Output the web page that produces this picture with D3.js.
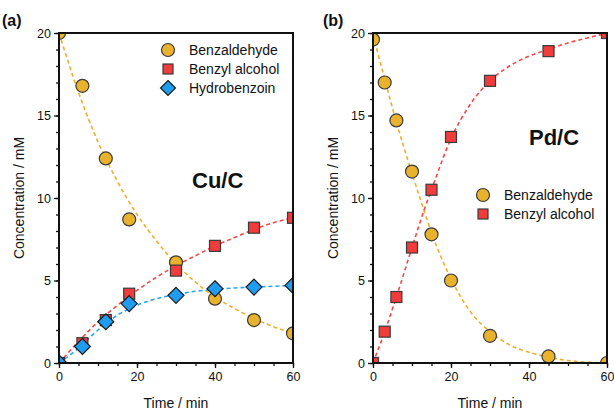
<!DOCTYPE html>
<html><head><meta charset="utf-8">
<script src="https://cdn.jsdelivr.net/npm/d3@7"></script>
<style>body{margin:0;background:#fff;} svg{display:block;font-family:"Liberation Sans",Arial,sans-serif;}</style>
</head><body>
<svg id="c" width="614" height="411"></svg>
<script>
// ---- Data ----
const timeA = [0, 6, 12, 18, 30, 40, 50, 60];
const aBenzaldehyde = [20, 16.8, 12.4, 8.7, 6.1, 3.9, 2.6, 1.8];
const aBenzylAlcohol = [0, 1.2, 2.6, 4.2, 5.6, 7.1, 8.2, 8.8];
const aHydrobenzoin = [0, 1.0, 2.5, 3.6, 4.1, 4.5, 4.6, 4.7];

// fitted (dashed) curves
const fitTimeA = [0, 5, 10, 15, 20, 25, 30, 35, 40, 45, 50, 55, 60];
const aFitBenzaldehyde = [20, 16.4, 13.4, 11.0, 9.0, 7.4, 6.0, 4.9, 4.0, 3.3, 2.7, 2.2, 1.8];
const aFitBenzylAlcohol = [0, 1.3, 2.5, 3.5, 4.4, 5.2, 5.9, 6.5, 7.1, 7.6, 8.1, 8.5, 8.8];
const aFitHydrobenzoin = [0, 0.9, 2.0, 2.9, 3.5, 3.9, 4.15, 4.35, 4.45, 4.55, 4.6, 4.65, 4.7];

const timeB = [0, 3, 6, 10, 15, 20, 30, 45, 60];
const bBenzaldehyde = [19.6, 17.0, 14.7, 11.6, 7.8, 5.0, 1.65, 0.4, 0];
const bBenzylAlcohol = [0, 1.9, 4.0, 7.0, 10.5, 13.7, 17.1, 18.9, 20.0];

const fitTimeB = [0, 3, 6, 10, 13, 15, 20, 25, 30, 35, 40, 45, 50, 55, 60];
const bFitBenzaldehyde = [19.9, 17.2, 14.6, 11.5, 9.3, 7.9, 5.1, 3.1, 1.9, 1.1, 0.65, 0.35, 0.15, 0.05, 0];
const bFitBenzylAlcohol = [0, 1.9, 4.0, 7.0, 9.2, 10.5, 13.6, 15.7, 17.1, 18.0, 18.6, 19.0, 19.4, 19.7, 20.0];

const xTicks = [0, 20, 40, 60];
const yTicks = [0, 5, 10, 15, 20];

const COL = {ald: "#E8B22C", alc: "#F23B3B", hyd: "#1E9CEF"};
const LINECOL = {ald: "#EDAF2E", alc: "#F24A4A", hyd: "#2AA6F0"};

const svg = d3.select("#c");

function panel(opts) {
  const {x0, x1, y0, y1, id} = opts;
  const x = d3.scaleLinear().domain([0, 60]).range([x0, x1]);
  const y = d3.scaleLinear().domain([0, 20]).range([y1, y0]);
  const g = svg.append("g");

  g.append("clipPath").attr("id", "clip" + id).append("rect")
    .attr("x", x0).attr("y", y0).attr("width", x1 - x0).attr("height", y1 - y0);

  // minor ticks
  const xMinor = d3.axisBottom(x).tickValues(d3.range(0, 61, 5)).tickSize(3).tickFormat("");
  const yMinor = d3.axisLeft(y).tickValues(d3.range(0, 21, 1)).tickSize(3).tickFormat("");
  const xMajor = d3.axisBottom(x).tickValues(xTicks).tickSize(5).tickPadding(4).tickFormat(d3.format("d"));
  const yMajor = d3.axisLeft(y).tickValues(yTicks).tickSize(5).tickPadding(3).tickFormat(d3.format("d"));

  [[xMinor, "b"], [xMajor, "b"]].forEach(([ax]) => {
    g.append("g").attr("transform", `translate(0,${y1})`).call(ax)
      .call(s => s.select(".domain").remove())
      .call(s => s.selectAll("line").attr("stroke", "#111").attr("stroke-width", 1.3))
      .call(s => s.selectAll("text").attr("font-size", 12.5).attr("fill", "#111").attr("font-family", "Liberation Sans, Arial"));
  });
  [yMinor, yMajor].forEach(ax => {
    g.append("g").attr("transform", `translate(${x0},0)`).call(ax)
      .call(s => s.select(".domain").remove())
      .call(s => s.selectAll("line").attr("stroke", "#111").attr("stroke-width", 1.3))
      .call(s => s.selectAll("text").attr("font-size", 12.5).attr("fill", "#111").attr("font-family", "Liberation Sans, Arial"));
  });

  const plot = g.append("g").attr("clip-path", `url(#clip${id})`);
  const line = d3.line().x(d => x(d[0])).y(d => y(d[1])).curve(d3.curveMonotoneX);

  opts.fits.forEach(f => {
    plot.append("path").datum(d3.zip(f.t, f.v)).attr("d", line)
      .attr("fill", "none").attr("stroke", f.c).attr("stroke-width", 1.6)
      .attr("stroke-dasharray", "4,3");
  });

  opts.series.forEach(s => {
    const pts = d3.zip(s.t, s.v);
    drawMarkers(plot, pts.map(p => [x(p[0]), y(p[1])]), s.shape, s.c);
  });

  // frame
  g.append("rect").attr("x", x0).attr("y", y0).attr("width", x1 - x0).attr("height", y1 - y0)
    .attr("fill", "none").attr("stroke", "#111").attr("stroke-width", 2);

  // axis titles
  g.append("text").attr("x", (x0 + x1) / 2).attr("y", 408).attr("text-anchor", "middle")
    .attr("font-size", 14).attr("fill", "#111").text("Time / min");
  g.append("text").attr("transform", `translate(${opts.ytx},${(y0 + y1) / 2}) rotate(-90)`)
    .attr("text-anchor", "middle").attr("font-size", 14).attr("fill", "#111").text("Concentration / mM");

  // panel label
  g.append("text").attr("x", opts.lx).attr("y", 26).attr("font-size", 16).attr("font-weight", "bold")
    .attr("fill", "#111").text(opts.label);

  // catalyst label
  g.append("text").attr("x", opts.cx).attr("y", opts.cy).attr("font-size", 22).attr("font-weight", "bold")
    .attr("fill", "#111").text(opts.cat);

  // legend
  opts.legend.forEach((l, i) => {
    const ly = opts.legY + i * 19;
    drawMarkers(g, [[opts.legX, ly]], l.shape, l.c, true);
    g.append("text").attr("x", opts.legX + 21).attr("y", ly + 5).attr("font-size", 14)
      .attr("fill", "#111").text(l.name);
  });
  return {x, y};
}

function drawMarkers(g, pts, shape, color, legend) {
  const sel = g.selectAll(null).data(pts).enter();
  if (shape === "circle") {
    sel.append("circle").attr("cx", d => d[0]).attr("cy", d => d[1]).attr("r", legend ? 6.5 : 6.5)
      .attr("fill", color).attr("stroke", "#3a3a3a").attr("stroke-width", 1.2);
  } else if (shape === "square") {
    const s = legend ? 10 : 11;
    sel.append("rect").attr("x", d => d[0] - s / 2).attr("y", d => d[1] - s / 2).attr("width", s).attr("height", s)
      .attr("fill", color).attr("stroke", "#3a3a3a").attr("stroke-width", 1.2);
  } else {
    const r = legend ? 7.5 : 8;
    sel.append("path").attr("d", d => `M${d[0]},${d[1] - r}L${d[0] + r},${d[1]}L${d[0]},${d[1] + r}L${d[0] - r},${d[1]}Z`)
      .attr("fill", color).attr("stroke", "#1a1a1a").attr("stroke-width", 1.2);
  }
}

panel({
  id: "a", x0: 59, x1: 293, y0: 33, y1: 363, label: "(a)", lx: 2, ytx: 24,
  cat: "Cu/C", cx: 192, cy: 188,
  fits: [
    {t: fitTimeA, v: aFitBenzaldehyde, c: LINECOL.ald},
    {t: fitTimeA, v: aFitBenzylAlcohol, c: LINECOL.alc},
    {t: fitTimeA, v: aFitHydrobenzoin, c: LINECOL.hyd}
  ],
  series: [
    {t: timeA, v: aBenzaldehyde, shape: "circle", c: COL.ald},
    {t: timeA, v: aBenzylAlcohol, shape: "square", c: COL.alc},
    {t: timeA, v: aHydrobenzoin, shape: "diamond", c: COL.hyd}
  ],
  legX: 168, legY: 50,
  legend: [
    {name: "Benzaldehyde", shape: "circle", c: COL.ald},
    {name: "Benzyl alcohol", shape: "square", c: COL.alc},
    {name: "Hydrobenzoin", shape: "diamond", c: COL.hyd}
  ]
});

panel({
  id: "b", x0: 373, x1: 607, y0: 33, y1: 363, label: "(b)", lx: 323, ytx: 338,
  cat: "Pd/C", cx: 529, cy: 145,
  fits: [
    {t: fitTimeB, v: bFitBenzaldehyde, c: LINECOL.ald},
    {t: fitTimeB, v: bFitBenzylAlcohol, c: LINECOL.alc}
  ],
  series: [
    {t: timeB, v: bBenzaldehyde, shape: "circle", c: COL.ald},
    {t: timeB, v: bBenzylAlcohol, shape: "square", c: COL.alc}
  ],
  legX: 483, legY: 195,
  legend: [
    {name: "Benzaldehyde", shape: "circle", c: COL.ald},
    {name: "Benzyl alcohol", shape: "square", c: COL.alc}
  ]
});
</script>
</body></html>
